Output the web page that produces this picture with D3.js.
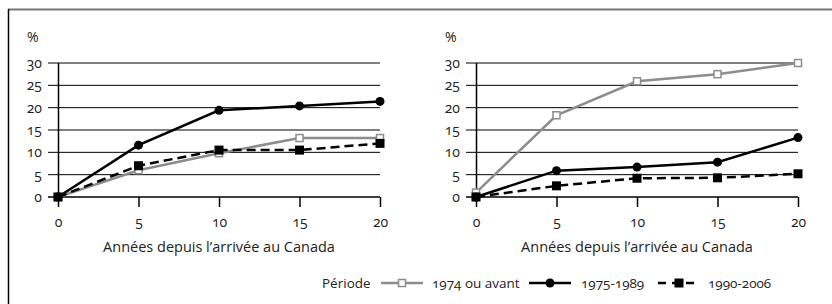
<!DOCTYPE html>
<html>
<head>
<meta charset="utf-8">
<script src="https://cdn.jsdelivr.net/npm/d3@7"></script>
<style>
  body { margin: 0; background: #fff; }
  svg { font-family: "Open Sans", sans-serif; font-variant-numeric: oldstyle-nums; fill: #222; }
</style>
</head>
<body>
<div id="graph"></div>
<script>
var years = [0, 5, 10, 15, 20];
var yTicks = [0, 5, 10, 15, 20, 25, 30];
var seriesNames = ["1974 ou avant", "1975-1989", "1990-2006"];

// left panel
var leftAvant = [0, 6, 9.8, 13.2, 13.2];
var left7589 = [0, 11.6, 19.4, 20.4, 21.4];
var left9006 = [0, 7, 10.5, 10.5, 12];

// right panel
var rightAvant = [1, 18.3, 25.9, 27.5, 30];
var right7589 = [0, 5.9, 6.7, 7.8, 13.3];
var right9006 = [0, 2.5, 4.2, 4.3, 5.2];

var xTitle = "Années depuis l\u2019arrivée au Canada";

var styles = [
  {stroke: "#8c8c8c", dash: null, mark: "osq"},
  {stroke: "#000", dash: null, mark: "circle"},
  {stroke: "#000", dash: "9,5", mark: "sq"}
];

var width = 832, height = 304;
var svg = d3.select("#graph").append("svg")
  .attr("width", width).attr("height", height);

// frame
svg.append("line").attr("x1", 8).attr("x2", width).attr("y1", 9.5).attr("y2", 9.5)
  .attr("stroke", "#777").attr("stroke-width", 2);
svg.append("line").attr("x1", 8.5).attr("x2", 8.5).attr("y1", 9).attr("y2", height)
  .attr("stroke", "#000").attr("stroke-width", 1.5);

function panel(left, data) {
  var x = d3.scaleLinear().domain([0, 20]).range([left, left + 322]);
  var y = d3.scaleLinear().domain([0, 30]).range([197, 63]);
  var g = svg.append("g");

  // gridlines
  g.selectAll(".grid").data(yTicks).enter().append("line")
    .attr("x1", left - 10).attr("x2", left + 322)
    .attr("y1", function(d) { return y(d); }).attr("y2", function(d) { return y(d); })
    .attr("stroke", "#000").attr("stroke-width", function(d) { return d === 0 ? 1.5 : 1; });

  g.selectAll(".ylab").data(yTicks).enter().append("text")
    .attr("x", left - 16).attr("y", function(d) { return y(d); })
    .attr("dy", "0.35em").attr("text-anchor", "end")
    .attr("font-size", 14).text(function(d) { return d; });

  g.append("text").attr("x", left - 31).attr("y", 42).attr("font-size", 14).text("%");

  // y axis line
  g.append("line").attr("x1", left + 0.5).attr("x2", left + 0.5)
    .attr("y1", y(30)).attr("y2", y(0)).attr("stroke", "#000").attr("stroke-width", 1.5);

  // x axis
  var xa = g.append("g").attr("transform", "translate(0," + y(0) + ")")
    .call(d3.axisBottom(x).tickValues(years).tickSize(10).tickPadding(10).tickSizeOuter(0));
  xa.select(".domain").remove();
  xa.selectAll(".tick line").attr("stroke-width", 1.5);
  xa.selectAll(".tick text").attr("font-size", 14).attr("fill", "#222");
  xa.attr("font-family", null);

  g.append("text").attr("x", x(10)).attr("y", 252).attr("text-anchor", "middle")
    .attr("font-size", 14.5).text(xTitle);

  var line = d3.line().x(function(d, i) { return x(years[i]); }).y(function(d) { return y(d); });

  data.forEach(function(vals, k) {
    var s = styles[k];
    g.append("path").datum(vals).attr("d", line).attr("fill", "none")
      .attr("stroke", s.stroke).attr("stroke-width", 2.5)
      .attr("stroke-dasharray", s.dash);
    drawMarks(g, vals.map(function(v, i) { return [x(years[i]), y(v)]; }), s.mark);
  });
}

function drawMarks(g, pts, mark) {
  pts.forEach(function(p) { marker(g, p[0], p[1], mark); });
}

function marker(g, cx, cy, mark) {
  if (mark === "circle") {
    g.append("circle").attr("cx", cx).attr("cy", cy).attr("r", 4.5).attr("fill", "#000");
  } else if (mark === "sq") {
    g.append("rect").attr("x", cx - 4.5).attr("y", cy - 4.5).attr("width", 9).attr("height", 9).attr("fill", "#000");
  } else {
    g.append("rect").attr("x", cx - 3.5).attr("y", cy - 3.5).attr("width", 7).attr("height", 7)
      .attr("fill", "#fff").attr("stroke", "#8c8c8c").attr("stroke-width", 1.5);
  }
}

panel(58, [leftAvant, left7589, left9006]);
panel(476, [rightAvant, right7589, right9006]);

// legend
var lg = svg.append("g").attr("font-size", 13.5);
lg.append("text").attr("x", 322).attr("y", 283).attr("dy", "0.35em").text("Période");
var legX = [381, 529, 658];
var textX = [432, 581, 708];
seriesNames.forEach(function(name, k) {
  var s = styles[k];
  lg.append("line").attr("x1", legX[k]).attr("x2", legX[k] + 42).attr("y1", 283).attr("y2", 283)
    .attr("stroke", s.stroke).attr("stroke-width", 2.5)
    .attr("stroke-dasharray", k === 2 ? "8,6" : null);
  marker(lg, legX[k] + 21, 283, s.mark);
  lg.append("text").attr("x", textX[k]).attr("y", 283).attr("dy", "0.35em").text(name);
});
</script>
</body>
</html>
